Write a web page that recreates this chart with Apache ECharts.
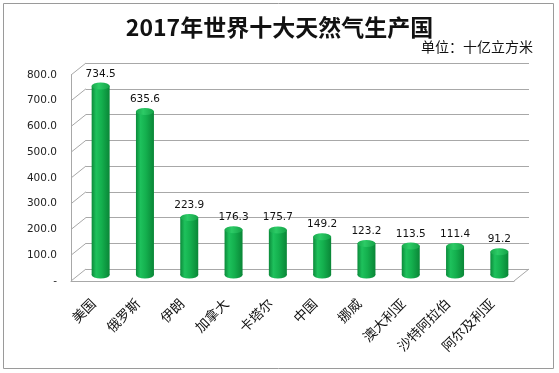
<!DOCTYPE html>
<html><head><meta charset="utf-8">
<script src="https://cdn.jsdelivr.net/npm/echarts@6/dist/echarts.min.js"></script>
<style>html,body{margin:0;padding:0;background:#fff}#c{width:559px;height:373px}</style>
</head><body><div id="c"></div>
<script>
const titleText = '2017年世界十大天然气生产国';
const unitText = '单位：十亿立方米';
const categories = ['美国','俄罗斯','伊朗','加拿大','卡塔尔','中国','挪威','澳大利亚','沙特阿拉伯','阿尔及利亚'];
const values = [734.5, 635.6, 223.9, 176.3, 175.7, 149.2, 123.2, 113.5, 111.4, 91.2];
const yTicks = [0, 100, 200, 300, 400, 500, 600, 700, 800];

const chart = echarts.init(document.getElementById('c'), null, {renderer: 'canvas'});
const lineColor = '#a8a8a8';
const DX = 15, DY = -12;
const barGrad = new echarts.graphic.LinearGradient(0, 0, 1, 0, [
  {offset: 0, color: '#0b8a3a'},
  {offset: 0.25, color: '#1ec15c'},
  {offset: 0.55, color: '#14b04e'},
  {offset: 1, color: '#0a8637'}
]);
const topGrad = new echarts.graphic.LinearGradient(0, 0, 1, 0, [
  {offset: 0, color: '#19a84c'},
  {offset: 0.4, color: '#2ccb66'},
  {offset: 1, color: '#15a247'}
]);

const valueFont = 'DejaVu Sans, Verdana, sans-serif';
const cjk = '"Noto Sans CJK SC", sans-serif';

chart.setOption({
  animation: false,
  backgroundColor: '#fff',
  title: [
    {text: titleText, left: 'center', top: 11,
     textStyle: {fontFamily: cjk, fontWeight: 'bold', fontSize: 23, color: '#111'}},
    {text: unitText, right: 21, top: 35,
     textStyle: {fontFamily: cjk, fontWeight: 'normal', fontSize: 14, color: '#111'}}
  ],
  graphic: [
    {type: 'rect', shape: {x: 3.5, y: 3.5, width: 550, height: 365},
     style: {fill: null, stroke: '#9a9a9a', lineWidth: 1}, silent: true}
  ],
  grid: [
    {left: 71, right: 45, top: 75, bottom: 92},   // front plane
    {left: 78.5, right: 37.5, top: 69, bottom: 98}, // bars plane
    {left: 86, right: 30, top: 63, bottom: 104}   // back wall
  ],
  xAxis: [
    {gridIndex: 0, type: 'category', data: categories,
     axisLine: {show: true, lineStyle: {color: lineColor, width: 1}},
     axisTick: {show: false},
     axisLabel: {rotate: 45, margin: 20, fontFamily: cjk, fontSize: 13.5, color: '#111', interval: 0}},
    {gridIndex: 1, type: 'category', data: categories, show: false},
    {gridIndex: 2, type: 'category', data: categories, show: false}
  ],
  yAxis: [
    {gridIndex: 0, type: 'value', min: 0, max: 800, interval: 100,
     axisLine: {show: true, lineStyle: {color: lineColor, width: 1}},
     axisTick: {show: false}, splitLine: {show: false},
     axisLabel: {margin: 14, fontFamily: valueFont, fontSize: 10.5, color: '#222',
       formatter: v => v === 0 ? '-' : v.toFixed(1)}},
    {gridIndex: 1, type: 'value', min: 0, max: 800, interval: 100, show: false, splitLine: {show: false}},
    {gridIndex: 2, type: 'value', min: 0, max: 800, interval: 100,
     axisLine: {show: false}, axisTick: {show: false}, axisLabel: {show: false},
     splitLine: {show: true, lineStyle: {color: lineColor, width: 1}}}
  ],
  series: [
    {
      type: 'custom', xAxisIndex: 0, yAxisIndex: 0, silent: true, z: 1,
      data: yTicks.map(v => [0, v]),
      renderItem: function (params, api) {
        const cs = params.coordSys;
        const v = api.value(1);
        const y = api.coord([0, v])[1];
        const children = [{type: 'line', shape: {x1: cs.x, y1: y, x2: cs.x + DX, y2: y + DY},
          style: {stroke: lineColor, lineWidth: 1}}];
        if (v === 0) {
          children.push({type: 'line', shape: {x1: cs.x + cs.width, y1: y, x2: cs.x + cs.width + DX, y2: y + DY},
            style: {stroke: lineColor, lineWidth: 1}});
        }
        return {type: 'group', children: children};
      }
    },
    {
      type: 'bar', xAxisIndex: 1, yAxisIndex: 1, data: values, barWidth: 18, z: 3,
      itemStyle: {color: barGrad}, silent: true
    },
    {
      type: 'pictorialBar', xAxisIndex: 1, yAxisIndex: 1, data: values, symbol: 'circle',
      symbolSize: [18, 7], symbolOffset: [0, '50%'], z: 2, silent: true,
      itemStyle: {color: barGrad}
    },
    {
      type: 'pictorialBar', xAxisIndex: 1, yAxisIndex: 1, data: values, symbol: 'circle',
      symbolSize: [18, 7], symbolPosition: 'end', symbolOffset: [0, '-50%'], z: 4, silent: true,
      itemStyle: {color: topGrad, borderColor: '#13993f', borderWidth: 0.5},
      label: {show: true, position: 'top', distance: 3, fontFamily: valueFont, fontSize: 10.5, color: '#111',
        formatter: p => p.value.toFixed(1)}
    }
  ]
});
</script></body></html>
